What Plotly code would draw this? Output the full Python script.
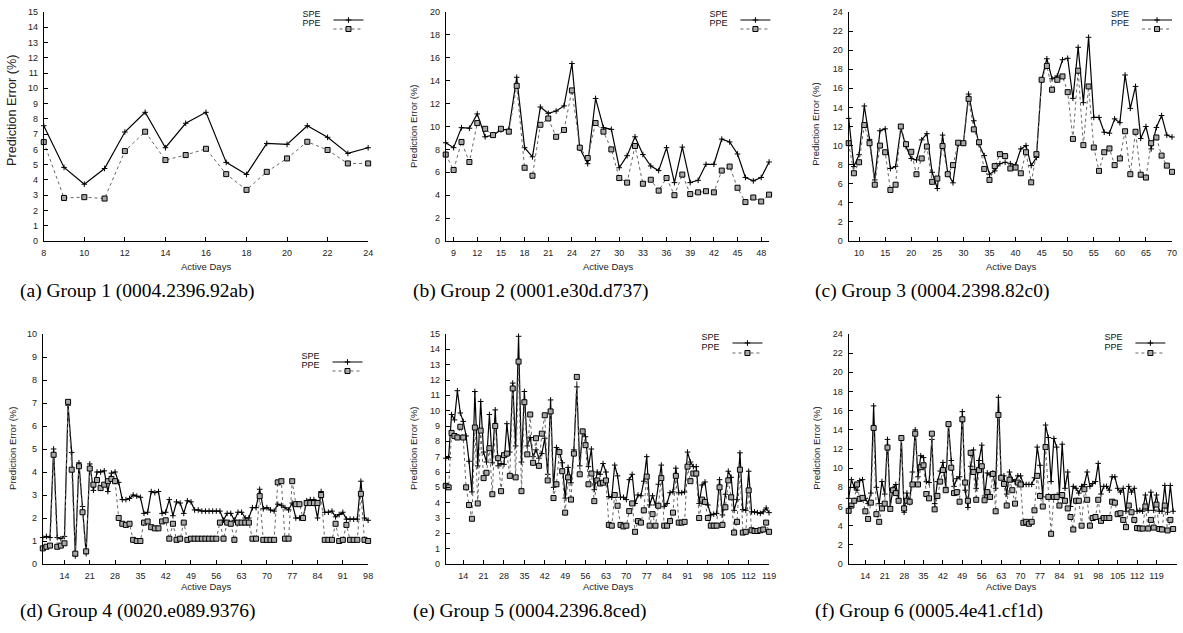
import plotly.graph_objects as go

W, H = 1183, 633
SANS = "Liberation Sans, Arial, Helvetica, sans-serif"
SERIF = "Liberation Serif, Times New Roman, serif"

# ---------------- data ----------------
# (a) Group 1
a_spe = [7.55, 4.82, 3.72, 4.75, 7.14, 8.43, 6.11, 7.71, 8.43, 5.15, 4.36, 6.39, 6.33, 7.55, 6.79, 5.74, 6.11]
a_ppe = [6.48, 2.82, 2.87, 2.78, 5.89, 7.16, 5.30, 5.63, 6.04, 4.38, 3.35, 4.53, 5.41, 6.50, 5.96, 5.08, 5.08]
a_xticks = [8, 10, 12, 14, 16, 18, 20, 22, 24]
a_yticks = list(range(0, 16))

# (b) Group 2
b_spe = [8.58, 8.15, 9.9, 9.85, 11.1, 9.1, 9.25, 9.7, 9.75, 14.3,
         8.15, 7.35, 11.7, 11.15, 11.35, 11.8, 15.5, 8.1, 6.75, 12.45,
         9.9, 9.75, 6.4, 7.45, 9.1, 7.55, 6.55, 6.15, 8.15, 5.1,
         8.2, 5.1, 5.3, 6.7, 6.7, 8.9, 8.65, 7.6, 5.55, 5.25,
         5.55, 6.9]
b_ppe = [7.55, 6.2, 8.65, 6.9, 10.3, 9.8, 9.25, 9.8, 9.55, 13.55,
         6.4, 5.7, 10.15, 10.7, 9.1, 9.7, 13.15, 8.15, 7.25, 10.3,
         9.55, 8.0, 5.5, 5.1, 8.3, 5.0, 5.35, 4.4, 5.5, 4.0,
         5.8, 4.1, 4.25, 4.35, 4.25, 6.15, 6.5, 4.65, 3.4, 3.8,
         3.45, 4.05]
b_xticks = [9, 12, 15, 18, 21, 24, 27, 30, 33, 36, 39, 42, 45, 48]
b_yticks = [0, 2, 4, 6, 8, 10, 12, 14, 16, 18, 20]

# (c) Group 3
c_spe = [12.85, 7.8, 9.05, 14.15, 10.65, 6.4, 11.55, 11.75, 7.6, 7.8,
         11.8, 9.9, 8.65, 8.5, 10.6, 11.25, 7.2, 5.5, 11.1, 7.1,
         6.1, 10.15, 10.25, 15.4, 12.6, 10.1, 8.95, 7.0, 7.35, 8.1,
         8.25, 8.1, 7.95, 9.65, 10.0, 7.9, 8.75, 16.9, 19.1, 17.0,
         17.3, 19.0, 19.15, 14.95, 20.3, 14.5, 21.35, 12.95, 12.95, 11.4,
         11.3, 12.8, 12.4, 17.4, 13.9, 16.2, 10.75, 12.0, 9.65, 11.9,
         13.15, 11.1, 10.9]
c_ppe = [10.25, 7.1, 8.25, 12.15, 10.25, 5.9, 10.0, 9.3, 5.35, 5.9,
         12.0, 10.15, 9.35, 7.0, 8.65, 9.9, 6.2, 6.55, 9.95, 7.0,
         7.95, 10.3, 10.25, 14.9, 11.7, 10.35, 7.55, 6.4, 7.85, 9.1,
         8.9, 7.6, 7.7, 7.1, 9.3, 6.15, 9.1, 16.9, 18.35, 15.85,
         16.9, 17.25, 15.6, 10.7, 17.85, 10.05, 16.2, 9.8, 7.35, 9.3,
         9.7, 7.95, 8.65, 11.5, 7.0, 11.45, 6.95, 6.65, 10.25, 10.85,
         8.95, 7.9, 7.25]
c_xticks = [10, 15, 20, 25, 30, 35, 40, 45, 50, 55, 60, 65, 70]
c_yticks = [0, 2, 4, 6, 8, 10, 12, 14, 16, 18, 20, 22, 24]

# (d) Group 4
d_spe = [1.15, 1.2, 1.15, 5.0, 1.15, 1.1, 1.2, 6.9, 4.85, 0.35,
         4.4, 2.5, 0.45, 4.35, 3.2, 4.0, 4.0, 4.05, 3.15, 3.95,
         4.0, 3.55, 2.8, 2.8, 2.85, 3.0, 2.95, 2.9, 2.2, 2.25,
         3.15, 3.1, 3.15, 2.2, 2.25, 2.8, 2.1, 2.7, 2.65, 2.2,
         2.75, 2.7, 2.35, 2.35, 2.3, 2.3,
         2.3, 2.3, 2.3, 2.3, 1.9, 2.2, 2.2, 1.9, 2.25, 2.25,
         2.0, 2.0, 2.45, 2.45, 3.25, 2.4, 2.45, 2.35, 2.3, 2.6,
         2.55, 2.45, 2.35, 2.65, 2.0, 2.0, 2.0, 2.75, 2.8, 2.8,
         2.0, 3.15, 2.25, 2.25, 2.3, 2.05, 2.15, 2.25, 1.95, 1.95,
         1.95, 1.95, 3.6, 2.0, 1.9]
d_ppe = [0.68, 0.75, 0.8, 4.75, 0.75, 0.8, 0.9, 7.05, 4.1, 0.45,
         4.25, 2.25, 0.55, 4.15, 3.45, 3.65, 3.3, 3.45, 3.6, 3.7,
         3.6, 2.0, 1.75, 1.7, 1.75, 1.05, 1.0, 1.0, 1.8, 1.85,
         1.6, 1.55, 1.55, 1.85, 1.9, 1.1, 1.75, 1.05, 1.1, 1.8,
         1.05, 1.1, 1.1, 1.1, 1.1, 1.1,
         1.1, 1.1, 1.1, 1.8, 1.1, 1.8, 1.75, 1.05, 1.8, 1.8,
         1.8, 1.8, 1.1, 1.1, 2.95, 1.05, 1.05, 1.05, 1.05, 3.55,
         3.6, 1.1, 1.1, 3.6, 2.6, 2.6, 2.0, 2.65, 2.65, 2.65,
         2.65, 3.0, 1.05, 1.05, 1.05, 1.75, 1.0, 1.05, 1.7, 1.05,
         1.05, 1.05, 3.05, 1.05, 1.0]
d_xticks = [14, 21, 28, 35, 42, 49, 56, 63, 70, 77, 84, 91, 98]
d_yticks = list(range(0, 11))

# (e) Group 5
e_spe = [6.9, 6.95, 9.75, 9.4, 11.3, 9.85, 9.3, 8.35, 6.7, 4.7,
         11.25, 6.4, 10.6, 7.3, 6.65, 9.75, 6.6, 10.05, 6.4, 6.55,
         6.5, 9.15, 7.3, 11.8, 7.7, 14.85, 6.65, 11.25, 7.7, 8.25,
         7.0, 7.45, 6.9, 7.2, 8.2, 5.85, 10.7, 5.0, 7.6, 7.35,
         6.6, 4.3, 6.3, 5.3, 7.45, 11.55, 6.4, 8.65, 8.3, 6.35,
         7.5, 4.85, 6.0, 5.85, 6.55, 6.0, 4.4, 4.35, 6.45, 5.75,
         4.35, 4.35, 4.2, 5.5, 5.85, 3.95, 4.5, 4.45, 5.4, 7.0,
         3.85, 4.45, 3.85, 5.2, 6.45, 3.75, 3.95, 4.65, 4.7, 6.25,
         4.65, 4.65, 4.7, 7.3, 6.65, 6.35, 6.35, 3.95, 5.15, 5.35,
         3.85, 3.2, 3.25, 3.3, 5.5, 3.2, 4.55, 6.05, 5.65, 3.5,
         4.2, 7.25, 3.55, 3.5, 6.05, 3.4, 3.4, 3.35, 3.3, 3.4,
         3.65, 3.35]
e_ppe = [5.1, 5.0, 8.55, 8.35, 8.25, 8.95, 8.25, 5.0, 3.85, 2.95,
         8.9, 3.95, 8.7, 5.6, 5.95, 7.55, 4.55, 9.0, 6.9, 4.75,
         7.1, 7.2, 5.75, 11.45, 5.65, 13.2, 4.75, 10.55, 7.15, 9.75,
         6.6, 8.2, 6.4, 8.5, 9.7, 5.45, 9.95, 4.3, 5.2, 7.3,
         6.05, 3.35, 5.65, 4.2, 7.2, 12.2, 5.85, 8.65, 7.75, 5.2,
         5.9, 4.1, 5.45, 5.25, 5.3, 5.45, 2.55, 2.5, 4.5, 3.8,
         2.55, 2.45, 2.5, 3.45, 3.95, 2.1, 2.8, 2.7, 3.5, 5.7,
         2.5, 3.25, 2.5, 3.8, 5.6, 2.5, 2.5, 2.8, 3.35, 5.75,
         2.7, 2.7, 2.75, 6.35, 5.4, 5.9, 5.9, 3.0, 4.2, 4.05,
         3.0, 2.5, 2.5, 2.5, 5.0, 2.55, 3.7, 5.45, 4.35, 2.05,
         2.75, 6.15, 2.05, 2.1, 4.8, 2.2, 2.15, 2.15, 2.2, 2.25,
         2.7, 2.1]
e_xticks = [14, 21, 28, 35, 42, 49, 56, 63, 70, 77, 84, 91, 98, 105, 112, 119]
e_yticks = list(range(0, 16))

# (f) Group 6
f_spe = [6.85, 8.8, 8.0, 7.7, 8.7, 8.8, 6.85, 6.3, 7.4, 16.5,
         8.0, 6.3, 8.6, 7.3, 13.0, 6.0, 7.9, 8.3, 6.8, 13.1,
         5.4, 7.4, 6.4, 9.6, 14.0, 9.1, 11.3, 11.1, 8.6, 8.5,
         13.0, 6.3, 8.6, 9.7, 10.6, 8.0, 14.5, 10.8, 8.1, 8.9,
         9.1, 15.9, 7.7, 5.9, 10.2, 11.9, 7.9, 10.8, 12.4, 7.1,
         9.5, 9.3, 9.5, 7.9, 17.4, 9.1, 9.2, 7.3,
         9.6, 8.8, 8.6, 9.2, 9.2, 8.3, 8.3, 8.3, 8.3, 9.0,
         12.2, 10.3, 7.0, 14.5, 13.2, 8.6, 13.1, 12.2, 7.4, 12.5,
         7.9, 9.6, 6.0, 8.1, 7.9, 7.4, 8.1, 8.3, 9.6, 8.1,
         8.4, 8.6, 10.5, 7.3, 8.1, 8.1, 7.7, 9.1, 9.1, 7.9,
         7.5, 7.9, 5.5, 8.1, 7.5, 7.9, 5.5, 5.6, 5.5, 7.2,
         5.6, 7.5, 5.6, 7.2, 5.5, 5.5, 8.2, 5.4, 8.2, 5.5]
f_ppe = [5.55, 6.1, 6.6, 8.3, 6.8, 6.9, 5.5, 4.7, 6.4, 14.2,
         5.2, 4.4, 5.8, 6.3, 12.15, 5.75, 7.7, 7.4, 6.6, 13.15,
         5.8, 6.6, 6.5, 8.3, 13.6, 8.3, 10.1, 10.3, 7.3, 6.85,
         13.6, 5.7, 7.1, 8.6, 9.8, 7.7, 14.6, 10.05, 7.4, 7.5,
         6.5, 15.1, 8.5, 6.6, 11.6, 9.6, 6.7, 9.8, 10.2, 6.65,
         7.5, 7.0, 9.4, 5.5, 15.55, 9.0, 8.35, 6.1,
         8.8, 7.7, 6.3, 8.5, 8.3, 4.3, 4.4, 4.2, 4.4, 5.6,
         9.2, 7.1, 6.0, 12.2, 7.0, 3.15, 7.0, 7.0, 6.1, 7.2,
         6.6, 5.8, 4.9, 3.6, 6.6, 6.6, 4.0, 7.8, 6.7, 4.0,
         4.8, 4.9, 6.7, 4.5, 4.8, 4.8, 4.8, 6.5, 6.4, 5.2,
         5.3, 4.6, 3.85, 6.1, 5.4, 4.6, 3.75, 3.7, 3.7, 6.0,
         3.7, 4.6, 3.8, 6.2, 3.65, 3.6, 6.1, 3.5, 4.6, 3.65]
f_xticks = [14, 21, 28, 35, 42, 49, 56, 63, 70, 77, 84, 91, 98, 105, 112, 119]
f_yticks = [0, 2, 4, 6, 8, 10, 12, 14, 16, 18, 20, 22, 24]

captions = ["(a) Group 1 (0004.2396.92ab)", "(b) Group 2 (0001.e30d.d737)",
            "(c) Group 3 (0004.2398.82c0)", "(d) Group 4 (0020.e089.9376)",
            "(e) Group 5 (0004.2396.8ced)", "(f) Group 6 (0005.4e41.cf1d)"]
series_names = ["SPE", "PPE"]
first_day = 8

# ---------------- layout (pixel boxes) ----------------
panels = [
    dict(spe=a_spe, ppe=a_ppe, xt=a_xticks, yt=a_yticks, xr=[8, 24], yr=[0, 15],
         px=(44, 370), py=(12, 241), cap=(18, 291), yt_pos=(12, 110, 12.7), xt_pos=(207, 266), leg=(302, 20, 29)),
    dict(spe=b_spe, ppe=b_ppe, xt=b_xticks, yt=b_yticks, xr=[8, 49], yr=[0, 20],
         px=(448, 773), py=(12, 241), cap=(413, 291), yt_pos=(415, 126, 9.5), xt_pos=(611, 266), leg=(711, 20, 29)),
    dict(spe=c_spe, ppe=c_ppe, xt=c_xticks, yt=c_yticks, xr=[8, 70], yr=[0, 24],
         px=(853, 1178), py=(12, 241), cap=(817, 291), yt_pos=(820, 124, 9.5), xt_pos=(1016, 266), leg=(1115, 20, 29)),
    dict(spe=d_spe, ppe=d_ppe, xt=d_xticks, yt=d_yticks, xr=[8, 98], yr=[0, 10],
         px=(43, 370), py=(334, 564), cap=(18, 611), yt_pos=(12, 448, 9.5), xt_pos=(207, 586), leg=(301, 362, 371)),
    dict(spe=e_spe, ppe=e_ppe, xt=e_xticks, yt=e_yticks, xr=[8, 119], yr=[0, 15],
         px=(448, 773), py=(334, 564), cap=(413, 611), yt_pos=(415, 448, 9.5), xt_pos=(611, 586), leg=(703, 343, 353)),
    dict(spe=f_spe, ppe=f_ppe, xt=f_xticks, yt=f_yticks, xr=[8, 126.4], yr=[0, 24],
         px=(853, 1183), py=(334, 564), cap=(817, 611), yt_pos=(820, 448, 9.5), xt_pos=(1016, 586), leg=(1108, 343, 353)),
]

fig = go.Figure()
layout = dict(width=W, height=H, autosize=False, margin=dict(l=0, r=0, t=0, b=0),
              paper_bgcolor="white", plot_bgcolor="white", template="none",
              font=dict(family=SANS, size=9, color="black"), annotations=[])

def px2x(v):
    return v / W

def py2y(v):
    return 1 - v / H

leg_n = 0
for i, p in enumerate(panels, start=1):
    xa = "xaxis" if i == 1 else f"xaxis{i}"
    ya = "yaxis" if i == 1 else f"yaxis{i}"
    xref = "x" if i == 1 else f"x{i}"
    yref = "y" if i == 1 else f"y{i}"
    axis_common = dict(ticks="inside", ticklen=4, tickwidth=1, tickcolor="black",
                       showline=True, linecolor="black", linewidth=1, mirror=False,
                       showgrid=False, zeroline=False, ticklabelstandoff=3,
                       tickfont=dict(family=SANS, size=9, color="#222"))
    layout[xa] = dict(domain=[px2x(p["px"][0]), px2x(p["px"][1])], range=p["xr"],
                      tickvals=p["xt"], anchor=yref, **axis_common)
    layout[ya] = dict(domain=[py2y(p["py"][1]), py2y(p["py"][0])], range=p["yr"],
                      tickvals=p["yt"], anchor=xref, **axis_common)

    styles = [
        dict(mode="lines+markers", line=dict(color="black", width=1.2),
             marker=dict(symbol="cross-thin", size=4, color="black",
                         line=dict(color="black", width=1))),
        dict(mode="lines+markers", line=dict(color="#666666", width=1, dash="dot"),
             marker=dict(symbol="square", size=5, color="#a8a8a8",
                         line=dict(color="black", width=1))),
    ]
    lx, ly1, ly2 = p["leg"]
    for k, (vals, st) in enumerate(zip([p["spe"], p["ppe"]], styles)):
        leg_n += 1
        lkey = "legend" if leg_n == 1 else f"legend{leg_n}"
        days = list(range(first_day, first_day + len(vals)))
        fig.add_trace(go.Scatter(x=days, y=vals, xaxis=xref, yaxis=yref, name="",
                                 legend=lkey, showlegend=True, cliponaxis=False,
                                 hovertemplate=series_names[k] + " day %{x}: %{y}%<extra></extra>",
                                 **st))
        layout[lkey] = dict(x=px2x(lx), y=py2y(ly1 if k == 0 else ly2), xanchor="left", yanchor="middle",
                            bgcolor="rgba(0,0,0,0)", borderwidth=0, itemwidth=30,
                            font=dict(family=SANS, size=9, color="black"),
                            title=dict(text=series_names[k], side="left",
                                       font=dict(family=SANS, size=9, color="#111")))

    # axis titles
    ytx, yty, yts = p["yt_pos"]
    layout["annotations"].append(dict(text="Prediction Error (%)", x=px2x(ytx), y=py2y(yty),
                                      xref="paper", yref="paper", showarrow=False, textangle=-90,
                                      xanchor="center", yanchor="middle",
                                      font=dict(family=SANS, size=yts, color="#222")))
    xtx, xty = p["xt_pos"]
    layout["annotations"].append(dict(text="Active Days", x=px2x(xtx), y=py2y(xty),
                                      xref="paper", yref="paper", showarrow=False,
                                      xanchor="center", yanchor="middle",
                                      font=dict(family=SANS, size=9.5, color="#222")))
    cx, cy = p["cap"]
    layout["annotations"].append(dict(text=captions[i - 1], x=px2x(cx), y=py2y(cy),
                                      xref="paper", yref="paper", showarrow=False,
                                      xanchor="left", yanchor="middle",
                                      font=dict(family=SERIF, size=19.5, color="black")))

fig.update_layout(**layout)
fig.write_html("out.html")
